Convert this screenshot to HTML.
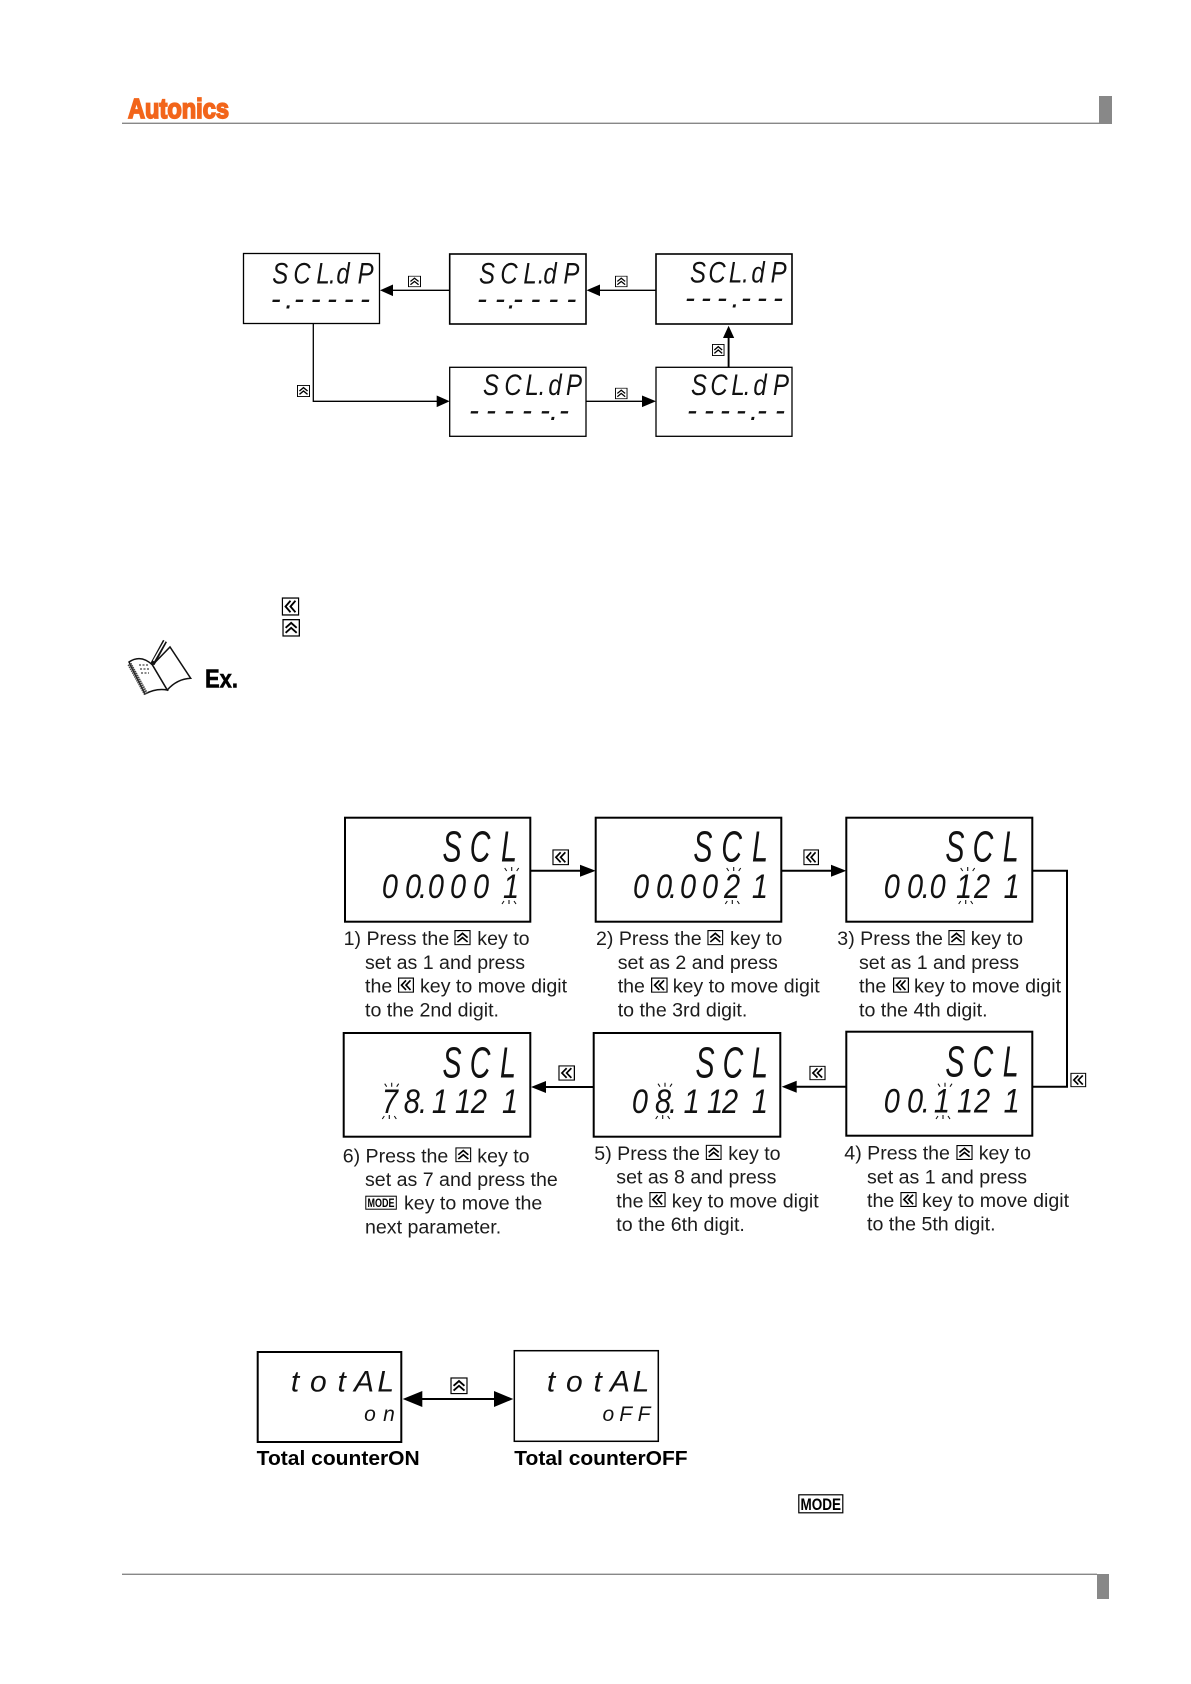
<!DOCTYPE html>
<html lang="en">
<head>
<meta charset="utf-8">
<title>Autonics SCL parameter settings</title>
<style>
html,body{margin:0;padding:0;background:#fff;width:1191px;height:1684px;overflow:hidden}
svg{display:block}
text{font-family:"Liberation Sans",Arial,sans-serif}
.c{font-size:19.6px;fill:#1c1c1c}
.s{font-style:italic;fill:#111;text-anchor:middle}
.s30{font-size:30px}
.s44{font-size:44px}
.s34{font-size:34px}
.s22{font-size:21px}
.b{fill:#fff;stroke:#000}
</style>
</head>
<body>
<svg width="1191" height="1684" viewBox="0 0 1191 1684" xmlns="http://www.w3.org/2000/svg">
<defs>
<symbol id="up" viewBox="0 0 16 16" preserveAspectRatio="none">
<rect x=".6" y=".6" width="14.8" height="14.8" fill="#fff" stroke="#000" stroke-width="1.2"/>
<path d="M3 8 L8 3.5 L13 8 M3 12.5 L8 8 L13 12.5" fill="none" stroke="#000" stroke-width="1.7"/>
</symbol>
<symbol id="lf" viewBox="0 0 16 16" preserveAspectRatio="none">
<rect x=".6" y=".6" width="14.8" height="14.8" fill="#fff" stroke="#000" stroke-width="1.2"/>
<path d="M8 3 L3.5 8 L8 13 M12.5 3 L8 8 L12.5 13" fill="none" stroke="#000" stroke-width="1.7"/>
</symbol>
<g id="tkU" stroke="#111" stroke-width="1.1" fill="none"><path d="M0 -4V0M-7 -3L-5 0M7 -3L5 0"/></g>
<g id="tkD" stroke="#111" stroke-width="1.1" fill="none"><path d="M0 0V4M-7 4L-5 1M7 4L5 1"/></g>
</defs>

<!-- header -->
<rect x="122" y="122.6" width="977" height="1.4" fill="#888"/>
<rect x="1099" y="96" width="13" height="28" fill="#888"/>
<text x="128" y="118" font-size="28" font-weight="700" fill="#f2651a" stroke="#f2651a" stroke-width="1.7" textLength="101" lengthAdjust="spacingAndGlyphs">Autonics</text>

<!-- top display cycle -->
<g fill="none" stroke="#000" stroke-width="1.3">
<path d="M450 290.3H392M656 290.3H599M313.3 323V401.3H438M586 401.3H643"/>
<path d="M728.6 367V336" stroke-width="1.9"/>
</g>
<g fill="#000">
<path d="M380 290.3L393 284.5V296.1Z"/>
<path d="M586.5 290.3L600 284.5V296.1Z"/>
<path d="M449.7 401.3L436.7 395.5V407.1Z"/>
<path d="M656 401.3L642 395.5V407.1Z"/>
<path d="M728.6 325.7L723 338H734.2Z"/>
</g>
<g>
<rect x="243.5" y="253.5" width="136" height="70" class="b" stroke-width="1.3"/>
<rect x="449.7" y="254" width="136.3" height="70" class="b" stroke-width="1.6"/>
<rect x="656" y="254" width="136" height="70" class="b" stroke-width="1.6"/>
<rect x="449.7" y="367.3" width="136.3" height="69" class="b" stroke-width="1.3"/>
<rect x="656" y="367.3" width="136" height="69" class="b" stroke-width="1.3"/>
</g>
<use href="#up" x="408" y="275.7" width="13" height="11.5"/>
<use href="#up" x="615" y="275.7" width="12.5" height="11.5"/>
<use href="#up" x="297" y="385" width="13" height="12"/>
<use href="#up" x="615" y="387.7" width="12.5" height="11.5"/>
<use href="#up" x="712" y="344" width="12.5" height="12"/>

<text class="s s30" transform="scale(.8 1)" y="283.3" x="350.4 377.5 403.8 415.4 428.8 457.1">SCL.dP</text>
<text class="s s30" y="308.5" x="275.7 289.3 299 315.7 332 348.7 365">-.-----</text>
<text class="s s30" transform="scale(.8 1)" y="283.3" x="608.8 636.3 662.5 676.3 687.5 714.3">SCL.dP</text>
<text class="s s30" y="308.5" x="482 500 511.8 518 535.5 553.4 571.4">--.----</text>
<text class="s s30" transform="scale(.8 1)" y="282.3" x="872.5 896.3 919.4 931.9 947.5 973.3">SCL.dP</text>
<text class="s s30" y="307.5" x="690 706 722 735.5 746 762 778">---.---</text>
<text class="s s30" transform="scale(.8 1)" y="395" x="613.8 641.3 665 677.5 693.8 717.5">SCL.dP</text>
<text class="s s30" y="420" x="474 491 509 527 545 554 564">-----.-</text>
<text class="s s30" transform="scale(.8 1)" y="395" x="873.8 898.8 922.5 933.8 950 976.3">SCL.dP</text>
<text class="s s30" y="420" x="692 709 725 741 754 762 780">----.--</text>

<!-- legend icons and note -->
<use href="#lf" x="281.7" y="597.3" width="17.6" height="18.4"/>
<use href="#up" x="282.3" y="619" width="17.7" height="17.7"/>

<g fill="none" stroke="#111" stroke-width="1.5">
<path d="M129 662 Q141 654 152.5 665 L167.3 690 Q156 688 145 694 Z" fill="#fff"/>
<path d="M152.5 665 L170 647 L190.7 678.3 Q177 679 167.3 690 Z" fill="#fff"/>
<path d="M129.5 664 L146 694" stroke-width="4.5" stroke="#444" stroke-dasharray="1.5 .7"/>
<path d="M152.5 664 L165 641" stroke-width="4.5"/>
<path d="M153.5 661 L165 641" stroke-width="1.4" stroke="#fff"/>
<path d="M139 665H149M140 669H150M141 673H149" stroke-width=".9" stroke-dasharray="2 1.5"/>
</g>
<text x="205" y="687.7" font-size="26" font-weight="700" fill="#000" stroke="#000" stroke-width=".6" textLength="33" lengthAdjust="spacingAndGlyphs">Ex.</text>

<!-- example sequence connectors -->
<g fill="none" stroke="#000" stroke-width="2">
<path d="M530 870.7H582M781 870.7H833"/>
<path d="M1032 870.7H1067V1086.7H1032"/>
<path d="M846 1086.7H795M593.7 1087H545"/>
</g>
<g fill="#000">
<path d="M595.7 870.7L580 864.7V876.7Z"/>
<path d="M846.3 870.7L831 864.7V876.7Z"/>
<path d="M781.7 1086.7L796.7 1080.7V1092.7Z"/>
<path d="M531 1087L546 1081V1093Z"/>
</g>
<g fill="#fff" stroke="#000" stroke-width="2">
<rect x="345" y="817.7" width="185.3" height="104"/>
<rect x="595.7" y="817.7" width="185.6" height="104"/>
<rect x="846.3" y="817.7" width="186" height="104"/>
<rect x="846.3" y="1031.7" width="186" height="104"/>
<rect x="593.7" y="1033" width="186.6" height="103.7"/>
<rect x="343.7" y="1033" width="186.6" height="103.7"/>
</g>
<use href="#lf" x="552.3" y="849.3" width="16.7" height="16"/>
<use href="#lf" x="803.3" y="849.3" width="15.7" height="16"/>
<use href="#lf" x="1070.3" y="1072.7" width="16" height="14.6"/>
<use href="#lf" x="809.3" y="1065.7" width="16.4" height="14.6"/>
<use href="#lf" x="558.3" y="1065.3" width="16.7" height="15.4"/>

<!-- displays -->
<text class="s s44" transform="scale(.65 1)" y="861.7" x="695.4 738.5 783.1">SCL</text>
<text class="s s34" transform="scale(.85 1)" y="898" x="458.8 485.9 497.6 512.9 538.8 565.9 601.2">00.0001</text>
<use href="#tkU" x="511.7" y="871"/><use href="#tkD" x="509" y="900"/>

<text class="s s44" transform="scale(.65 1)" y="861.7" x="1081.5 1125.7 1169.2">SCL</text>
<text class="s s34" transform="scale(.85 1)" y="898" x="754.1 781.2 791.8 809.4 835.3 861.2 894.1">00.0021</text>
<use href="#tkU" x="733.7" y="871"/><use href="#tkD" x="732.3" y="900"/>

<text class="s s44" transform="scale(.65 1)" y="861.7" x="1469.2 1512.3 1554.9">SCL</text>
<text class="s s34" transform="scale(.85 1)" y="898" x="1049.1 1076.5 1089.1 1103.2 1134.1 1155.3 1190.2">00.0121</text>
<use href="#tkU" x="967.7" y="871"/><use href="#tkD" x="965.7" y="900"/>

<text class="s s44" transform="scale(.65 1)" y="1076.7" x="1469.2 1512.3 1554.9">SCL</text>
<text class="s s34" transform="scale(.85 1)" y="1112.7" x="1049.1 1076.5 1089.1 1108.2 1135.3 1155.3 1190.2">00.1121</text>
<use href="#tkU" x="945" y="1086.7"/><use href="#tkD" x="943" y="1115"/>

<text class="s s44" transform="scale(.65 1)" y="1077.7" x="1084.6 1127.7 1169.2">SCL</text>
<text class="s s34" transform="scale(.85 1)" y="1113" x="752.9 780 791.8 813.8 841.2 858.8 894.1">08.1121</text>
<use href="#tkU" x="665" y="1086.7"/><use href="#tkD" x="662.7" y="1115"/>

<text class="s s44" transform="scale(.65 1)" y="1077.7" x="695.4 738.5 781.5">SCL</text>
<text class="s s34" transform="scale(.85 1)" y="1113" x="458.8 484.4 497.6 517.6 544.7 563.5 600">78.1121</text>
<use href="#tkU" x="391.7" y="1086.7"/><use href="#tkD" x="389.3" y="1115"/>

<!-- captions -->
<text class="c" x="343.6" y="945">1) Press the</text>
<use href="#up" x="454.3" y="930" width="16.4" height="15.3"/>
<text class="c" x="477.3" y="945">key to</text>
<text class="c" x="365" y="969">set as 1 and press</text>
<text class="c" x="365" y="992.7">the</text>
<use href="#lf" x="398" y="977.5" width="16" height="15.3"/>
<text class="c" x="420" y="992.7">key to move digit</text>
<text class="c" x="365" y="1016.3">to the 2nd digit.</text>

<text class="c" x="596" y="945">2) Press the</text>
<use href="#up" x="707.3" y="930" width="16" height="15.3"/>
<text class="c" x="730" y="945">key to</text>
<text class="c" x="617.7" y="969">set as 2 and press</text>
<text class="c" x="617.7" y="992.7">the</text>
<use href="#lf" x="651" y="977.5" width="16.7" height="15.3"/>
<text class="c" x="672.7" y="992.7">key to move digit</text>
<text class="c" x="617.7" y="1016.3">to the 3rd digit.</text>

<text class="c" x="837.3" y="945">3) Press the</text>
<use href="#up" x="948.3" y="930" width="16.4" height="15.3"/>
<text class="c" x="970.7" y="945">key to</text>
<text class="c" x="859" y="969">set as 1 and press</text>
<text class="c" x="859" y="992.7">the</text>
<use href="#lf" x="893" y="977.5" width="16" height="15.3"/>
<text class="c" x="914" y="992.7">key to move digit</text>
<text class="c" x="859" y="1016.3">to the 4th digit.</text>

<text class="c" x="844.3" y="1159.7">4) Press the</text>
<use href="#up" x="956.3" y="1145" width="16.4" height="15"/>
<text class="c" x="978.7" y="1159.7">key to</text>
<text class="c" x="867" y="1183.3">set as 1 and press</text>
<text class="c" x="867" y="1207">the</text>
<use href="#lf" x="900.3" y="1192" width="16.4" height="15"/>
<text class="c" x="922" y="1207">key to move digit</text>
<text class="c" x="867" y="1230.7">to the 5th digit.</text>

<text class="c" x="594.3" y="1160">5) Press the</text>
<use href="#up" x="705.7" y="1144.7" width="16" height="15.3"/>
<text class="c" x="728.3" y="1160">key to</text>
<text class="c" x="616.3" y="1183.7">set as 8 and press</text>
<text class="c" x="616.3" y="1207.3">the</text>
<use href="#lf" x="649.3" y="1192" width="16.4" height="15.3"/>
<text class="c" x="671.7" y="1207.3">key to move digit</text>
<text class="c" x="616.3" y="1231">to the 6th digit.</text>

<text class="c" x="342.7" y="1162.3">6) Press the</text>
<use href="#up" x="455.3" y="1147.3" width="16" height="15"/>
<text class="c" x="477.3" y="1162.3">key to</text>
<text class="c" x="365" y="1186">set as 7 and press the</text>
<rect x="365.8" y="1196.2" width="30.5" height="13" fill="#fff" stroke="#000" stroke-width="1"/>
<text x="367.5" y="1207" font-size="11.5" font-weight="700" fill="#000" textLength="27" lengthAdjust="spacingAndGlyphs">MODE</text>
<text class="c" x="404" y="1209.7">key to move the</text>
<text class="c" x="365" y="1233.3">next parameter.</text>

<!-- total counter -->
<g fill="#fff" stroke="#000">
<rect x="257.7" y="1352" width="143.6" height="90" stroke-width="2"/>
<rect x="514.3" y="1350.7" width="144" height="90.6" stroke-width="1.5"/>
</g>
<path d="M420 1399H496" stroke="#000" stroke-width="2" fill="none"/>
<path d="M402.7 1399L422.3 1391V1407Z" fill="#000"/>
<path d="M513.3 1399L494 1391V1407Z" fill="#000"/>
<use href="#up" x="450.3" y="1377.3" width="17.4" height="17"/>
<text class="s s30" y="1391.7" x="295 318.3 341.7 364 385.7">totAL</text>
<text class="s s22" y="1421" x="370 389">on</text>
<text class="s s30" y="1391.7" x="551 574.3 597.7 620 641">totAL</text>
<text class="s s22" y="1421" x="608.3 625.7 644">oFF</text>
<text x="256.7" y="1465" font-size="20" font-weight="700" fill="#000" textLength="163" lengthAdjust="spacingAndGlyphs">Total counterON</text>
<text x="514.3" y="1465" font-size="20" font-weight="700" fill="#000" textLength="173.3" lengthAdjust="spacingAndGlyphs">Total counterOFF</text>

<!-- MODE key -->
<rect x="798.8" y="1494.8" width="44" height="18" fill="#fff" stroke="#000" stroke-width="1.2"/>
<text x="800.5" y="1510" font-size="17" font-weight="700" fill="#000" textLength="40.5" lengthAdjust="spacingAndGlyphs">MODE</text>

<!-- footer -->
<rect x="122" y="1573.6" width="975" height="1.4" fill="#888"/>
<rect x="1097" y="1574" width="12" height="25" fill="#888"/>
</svg>
</body>
</html>
